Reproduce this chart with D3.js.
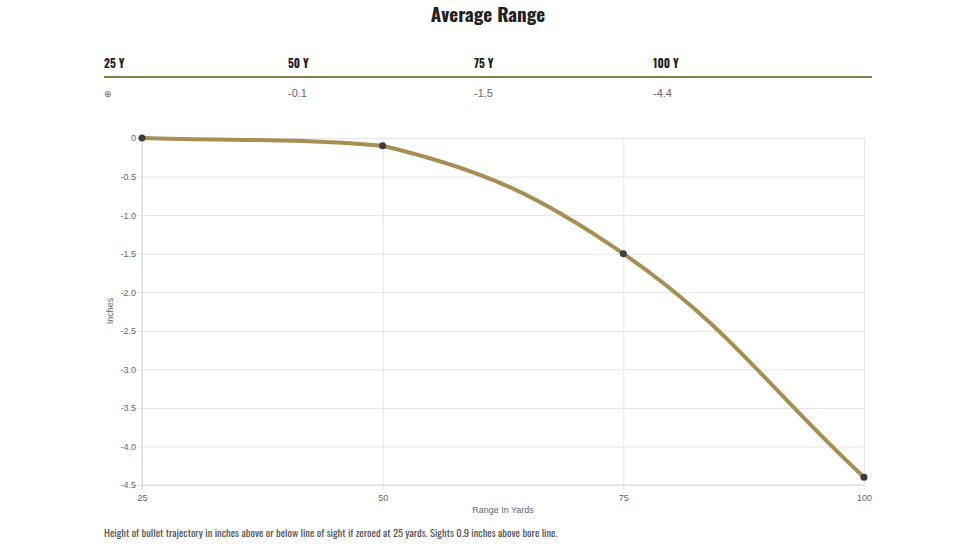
<!DOCTYPE html>
<html><head><meta charset="utf-8">
<script src="https://cdn.jsdelivr.net/npm/d3@7"></script>
<style>
body{margin:0;background:#fff;}
svg{display:block;}
</style></head>
<body><svg id="c" width="978" height="550"></svg>
<script>
const title = "Average Range";
const ranges = [25, 50, 75, 100];
const rangeLabels = ["25 Y", "50 Y", "75 Y", "100 Y"];
const tableValues = ["\u2295", "-0.1", "-1.5", "-4.4"];
const drops = [0, -0.1, -1.5, -4.4];
const yTicks = [0, -0.5, -1.0, -1.5, -2.0, -2.5, -3.0, -3.5, -4.0, -4.5];
const xAxisTitle = "Range In Yards";
const yAxisTitle = "Inches";
const footnote = "Height of bullet trajectory in inches above or below line of sight if zeroed at 25 yards. Sights 0.9 inches above bore line.";

const svg = d3.select("#c");
const condensed = "Oswald, 'Liberation Sans Narrow', 'DejaVu Sans Condensed', 'Roboto Condensed', sans-serif";
const gold = "#a68e54";

svg.append("text").attr("x", 488).attr("y", 22).attr("text-anchor", "middle")
  .style("font-family", condensed).style("font-weight", "bold").style("font-size", "19px")
  .style("font-stretch", "condensed").attr("fill", "#222").text(title);

// table
const colX = d3.scaleOrdinal().domain(rangeLabels).range([104, 288, 474, 653]);
svg.selectAll("text.hdr").data(rangeLabels).join("text").attr("class", "hdr")
  .attr("x", d => colX(d)).attr("y", 68)
  .style("font-family", condensed).style("font-weight", "bold").style("font-size", "11.5px")
  .style("font-stretch", "condensed").attr("fill", "#222").text(d => d);
svg.append("line").attr("x1", 104).attr("x2", 872).attr("y1", 77).attr("y2", 77)
  .attr("stroke", "#8c7b4c").attr("stroke-width", 2);
svg.selectAll("text.val").data(tableValues).join("text").attr("class", "val")
  .attr("x", (d, i) => colX(rangeLabels[i])).attr("y", 97)
  .style("font-family", "'Liberation Sans', Arial, sans-serif").style("font-size", (d,i)=> i===0 ? "9px" : "11px")
  .attr("fill", "#666").text(d => d);

// chart
const x = d3.scaleLinear().domain([25, 100]).range([142, 864]);
const y = d3.scaleLinear().domain([0, -4.5]).range([138, 485]);
const gridColor = "#e6e6e6";

const gy = svg.append("g").attr("transform", "translate(142,0)")
  .call(d3.axisLeft(y).tickValues(yTicks).tickSize(8).tickPadding(0)
    .tickFormat(d => d === 0 ? "0" : d.toFixed(1)));
gy.select(".domain").remove();
gy.selectAll(".tick line").attr("stroke", gridColor).attr("x2", -8).attr("x1", 722);
gy.selectAll(".tick text").attr("fill", "#666").attr("x", -6)
  .style("font-family", "'Liberation Sans', Arial, sans-serif").style("font-size", "9px");

const gx = svg.append("g").attr("transform", "translate(0,485)")
  .call(d3.axisBottom(x).tickValues(ranges).tickSize(5).tickPadding(5).tickFormat(d3.format("d")));
gx.select(".domain").remove();
gx.selectAll(".tick line").attr("stroke", gridColor).attr("y1", -347).attr("y2", 5);
gx.selectAll(".tick text").attr("fill", "#666")
  .style("font-family", "'Liberation Sans', Arial, sans-serif").style("font-size", "9px");

svg.append("line").attr("x1", 142).attr("x2", 864).attr("y1", 485).attr("y2", 485).attr("stroke", "#d8d8d8");
svg.append("line").attr("x1", 142).attr("x2", 142).attr("y1", 138).attr("y2", 490).attr("stroke", "#d8d8d8");

svg.append("text").attr("x", 503).attr("y", 513).attr("text-anchor", "middle")
  .style("font-family", "'Liberation Sans', Arial, sans-serif").style("font-size", "9px")
  .attr("fill", "#666").text(xAxisTitle);
svg.append("text").attr("transform", "translate(113,311) rotate(-90)").attr("text-anchor", "middle")
  .style("font-family", "'Liberation Sans', Arial, sans-serif").style("font-size", "9px")
  .attr("fill", "#666").text(yAxisTitle);

// tension spline with control points capped to the plot area
function cappedSpline(context) {
  const t = 0.4, left = 142, right = 864, top = 138, bottom = 485;
  let pts = [];
  const cap = (v, a, b) => Math.max(a, Math.min(b, v));
  return {
    areaStart() {}, areaEnd() {},
    lineStart() { pts = []; },
    point(px, py) { pts.push({x: +px, y: +py}); },
    lineEnd() {
      const n = pts.length;
      if (!n) return;
      const cps = pts.map((cur, i) => {
        const prev = pts[Math.max(0, i - 1)], next = pts[Math.min(n - 1, i + 1)];
        const d01 = Math.hypot(cur.x - prev.x, cur.y - prev.y);
        const d12 = Math.hypot(next.x - cur.x, next.y - cur.y);
        let s01 = d01 / (d01 + d12), s12 = d12 / (d01 + d12);
        if (isNaN(s01)) s01 = 0; if (isNaN(s12)) s12 = 0;
        const fa = t * s01, fb = t * s12;
        return {
          px: cap(cur.x - fa * (next.x - prev.x), left, right),
          py: cap(cur.y - fa * (next.y - prev.y), top, bottom),
          nx: cap(cur.x + fb * (next.x - prev.x), left, right),
          ny: cap(cur.y + fb * (next.y - prev.y), top, bottom)
        };
      });
      context.moveTo(pts[0].x, pts[0].y);
      for (let i = 1; i < n; i++) {
        context.bezierCurveTo(cps[i-1].nx, cps[i-1].ny, cps[i].px, cps[i].py, pts[i].x, pts[i].y);
      }
    }
  };
}

const pts = ranges.map((r, i) => [r, drops[i]]);
svg.append("path").datum(pts)
  .attr("d", d3.line().x(d => x(d[0])).y(d => y(d[1])).curve(cappedSpline))
  .attr("fill", "none").attr("stroke", gold).attr("stroke-width", 4);
svg.selectAll("circle.pt").data(pts).join("circle").attr("class", "pt")
  .attr("cx", d => x(d[0])).attr("cy", d => y(d[1])).attr("r", 3.5).attr("fill", "#3d3d3d");

svg.append("text").attr("x", 104).attr("y", 537)
  .style("font-family", condensed).style("font-size", "10.5px").style("font-stretch", "condensed")
  .attr("fill", "#555").text(footnote);
</script></body></html>
